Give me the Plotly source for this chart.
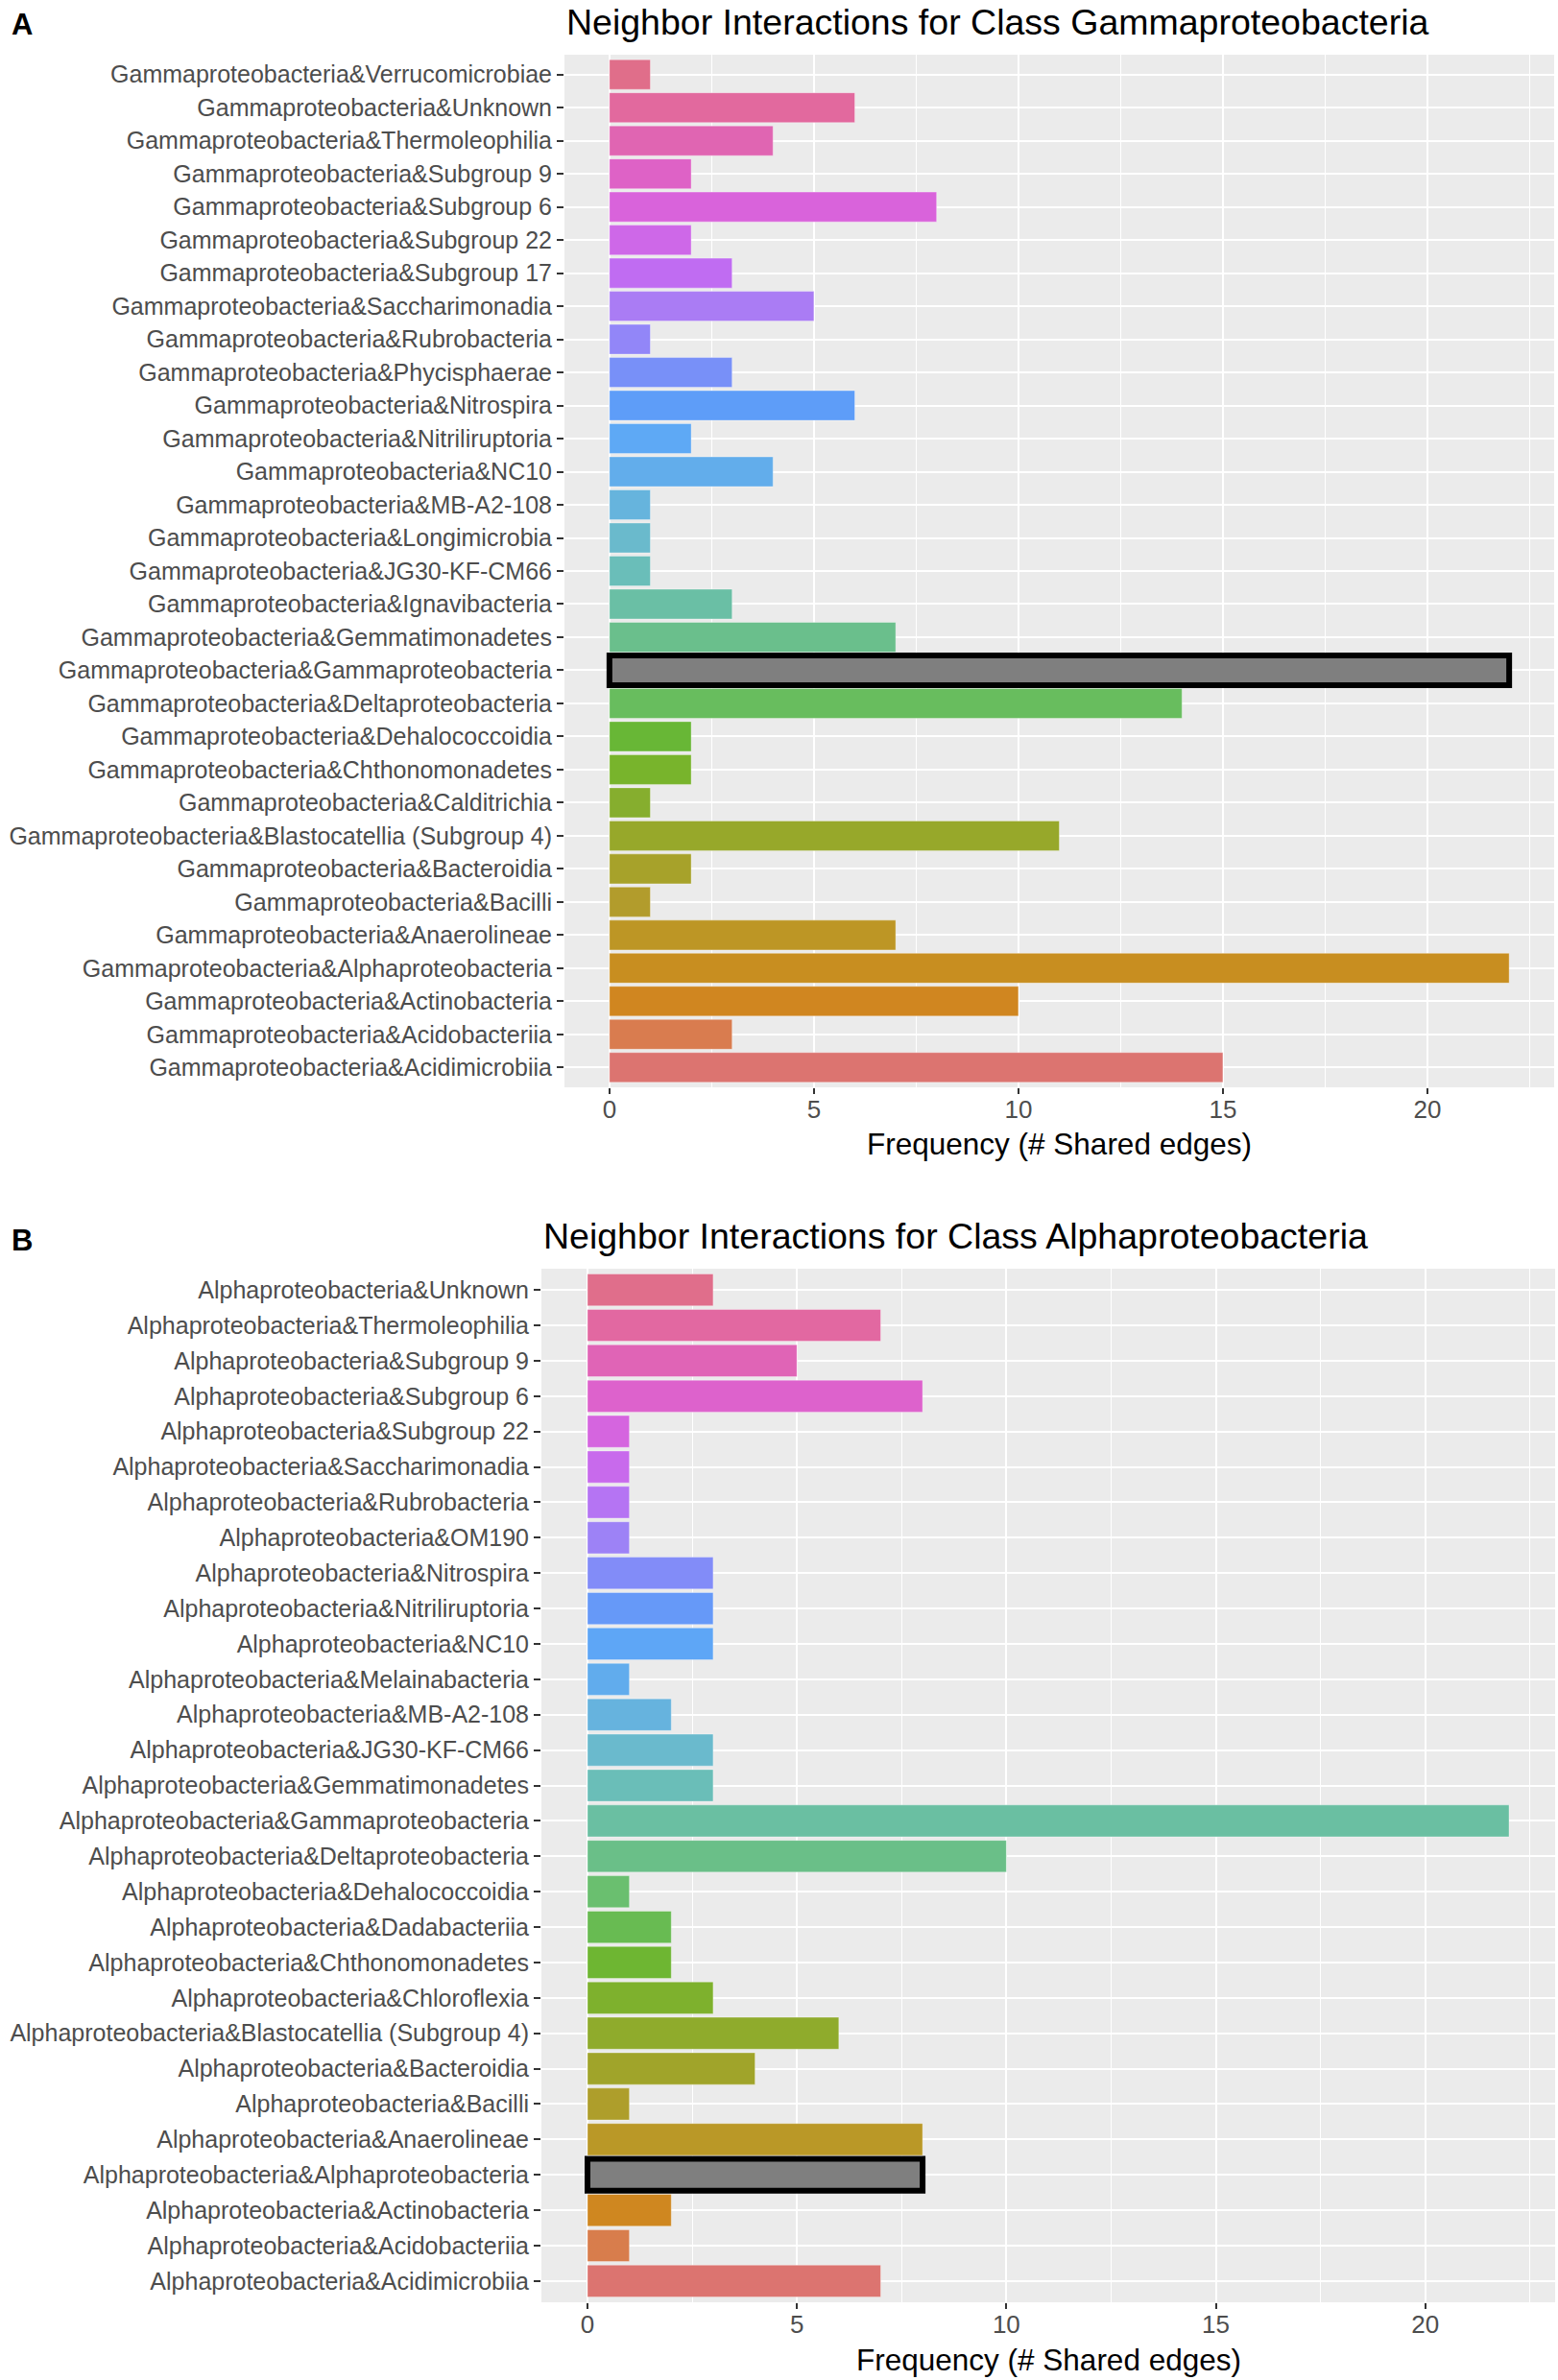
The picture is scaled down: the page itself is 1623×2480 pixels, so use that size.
import numpy as np
import plotly.graph_objects as go

# Neighbour classes and shared-edge counts (alphabetical, bottom to top)
gamma_partners = ["Acidimicrobiia", "Acidobacteriia", "Actinobacteria", "Alphaproteobacteria",
                  "Anaerolineae", "Bacilli", "Bacteroidia", "Blastocatellia (Subgroup 4)",
                  "Calditrichia", "Chthonomonadetes", "Dehalococcoidia", "Deltaproteobacteria",
                  "Gammaproteobacteria", "Gemmatimonadetes", "Ignavibacteria", "JG30-KF-CM66",
                  "Longimicrobia", "MB-A2-108", "NC10", "Nitriliruptoria", "Nitrospira",
                  "Phycisphaerae", "Rubrobacteria", "Saccharimonadia", "Subgroup 17",
                  "Subgroup 22", "Subgroup 6", "Subgroup 9", "Thermoleophilia", "Unknown",
                  "Verrucomicrobiae"]
gamma_counts = [15, 3, 10, 22, 7, 1, 2, 11, 1, 2, 2, 14, 22, 7, 3, 1,
                1, 1, 4, 2, 6, 3, 1, 5, 3, 2, 8, 2, 4, 6, 1]

alpha_partners = ["Acidimicrobiia", "Acidobacteriia", "Actinobacteria", "Alphaproteobacteria",
                  "Anaerolineae", "Bacilli", "Bacteroidia", "Blastocatellia (Subgroup 4)",
                  "Chloroflexia", "Chthonomonadetes", "Dadabacteriia", "Dehalococcoidia",
                  "Deltaproteobacteria", "Gammaproteobacteria", "Gemmatimonadetes",
                  "JG30-KF-CM66", "MB-A2-108", "Melainabacteria", "NC10", "Nitriliruptoria",
                  "Nitrospira", "OM190", "Rubrobacteria", "Saccharimonadia", "Subgroup 22",
                  "Subgroup 6", "Subgroup 9", "Thermoleophilia", "Unknown"]
alpha_counts = [7, 1, 2, 8, 8, 1, 4, 6, 3, 2, 2, 1, 10, 22, 3,
                3, 2, 1, 3, 3, 3, 1, 1, 1, 1, 8, 5, 7, 3]

x_ticks = [0, 5, 10, 15, 20]

# hue wheel as it looks in the printed figure (muted ggplot hues)
wheel = ["#DC7470", "#D97C4F", "#D08620", "#C88E20", "#BD9625", "#B29C2C", "#A7A22A",
         "#97A82A", "#86AE2E", "#78B42C", "#68B736", "#68BD5E", "#6ABF75", "#6ABF8C",
         "#6ABFA5", "#6ABEB9", "#6ABACC", "#66B4DD", "#62ADEB", "#5EA9F5", "#5E9DF8",
         "#7890F8", "#9286F8", "#AA7CF4", "#C06CF2", "#CE68E8", "#D963DB", "#DE62C6",
         "#E065B2", "#E2699E", "#E06E8A"]

W, H = 1623, 2480
FONT = "Liberation Sans, Arial, sans-serif"


def palette(n):
    rgb = np.array([[int(c[i:i + 2], 16) for i in (1, 3, 5)] for c in wheel], dtype=float)
    m = len(wheel)
    out = []
    for i in range(n):
        pos = i * m / n
        a = int(np.floor(pos))
        f = pos - a
        c = rgb[a % m] * (1 - f) + rgb[(a + 1) % m] * f
        out.append("#%02X%02X%02X" % tuple(int(round(v)) for v in c))
    return out


def panel_trace(focal, partners, counts, xa, ya):
    labels = [focal + "&" + p for p in partners]
    colors = palette(len(partners))
    line_c, line_w = [], []
    for i, p in enumerate(partners):
        if p == focal:
            colors[i] = "#7F7F7F"
            line_c.append("black")
            line_w.append(6)
        else:
            line_c.append("rgba(255,255,255,0.35)")
            line_w.append(1)
    return go.Bar(x=counts, y=labels, orientation="h", width=0.9,
                  marker=dict(color=colors, line=dict(color=line_c, width=line_w)),
                  xaxis=xa, yaxis=ya, showlegend=False)


fig = go.Figure()
fig.add_trace(panel_trace("Gammaproteobacteria", gamma_partners, gamma_counts, "x", "y"))
fig.add_trace(panel_trace("Alphaproteobacteria", alpha_partners, alpha_counts, "x2", "y2"))

# panel boxes in pixels (left, right, top, bottom)
top_box = (588, 1619, 57, 1133)
bot_box = (564, 1620, 1322, 2399)


def xdom(b):
    return [b[0] / W, b[1] / W]


def ydom(b):
    return [1 - b[3] / H, 1 - b[2] / H]


xaxis_style = dict(range=[-1.1, 23.1], tickvals=x_ticks, showgrid=True, gridcolor="white",
                   gridwidth=2.2, zeroline=False, ticks="outside", ticklen=6, tickwidth=2,
                   tickcolor="#333333", tickfont=dict(size=26, color="#4D4D4D", family=FONT),
                   ticklabelstandoff=-6,
                   minor=dict(dtick=2.5, tick0=0, showgrid=True, gridcolor="white", gridwidth=1.1),
                   fixedrange=True)
yaxis_style = dict(showgrid=True, gridcolor="white", gridwidth=2.2, ticks="outside", ticklen=7,
                   tickwidth=2, tickcolor="#333333",
                   tickfont=dict(size=25, color="#4D4D4D", family=FONT), type="category")

fig.update_layout(
    width=W, height=H,
    margin=dict(l=0, r=0, t=0, b=0),
    paper_bgcolor="white", plot_bgcolor="#EBEBEB",
    font=dict(family=FONT),
    xaxis=dict(domain=xdom(top_box), anchor="y", **xaxis_style),
    yaxis=dict(domain=ydom(top_box), anchor="x", range=[-0.6, len(gamma_partners) - 0.4],
               **yaxis_style),
    xaxis2=dict(domain=xdom(bot_box), anchor="y2", **xaxis_style),
    yaxis2=dict(domain=ydom(bot_box), anchor="x2", range=[-0.6, len(alpha_partners) - 0.4],
                **yaxis_style),
)

# titles, axis titles and panel letters
texts = [
    ("A", 10, 25, 31, "left", True),
    ("B", 10, 1292, 31, "left", True),
    ("Neighbor Interactions for Class Gammaproteobacteria", top_box[0], 23, 37.5, "left", False),
    ("Neighbor Interactions for Class Alphaproteobacteria", bot_box[0], 1288, 37.5, "left", False),
    ("Frequency (# Shared edges)", (top_box[0] + top_box[1]) / 2, 1192, 31.5, "center", False),
    ("Frequency (# Shared edges)", (bot_box[0] + bot_box[1]) / 2, 2459, 31.5, "center", False),
]
for txt, px, py, size, anchor, bold in texts:
    fig.add_annotation(text="<b>%s</b>" % txt if bold else txt, x=px / W, y=1 - py / H,
                       xref="paper", yref="paper", xanchor=anchor, yanchor="middle",
                       showarrow=False, font=dict(size=size, color="black", family=FONT))

fig.write_html("out.html", config={"displayModeBar": False},
               post_script="document.body.style.margin='0';")
